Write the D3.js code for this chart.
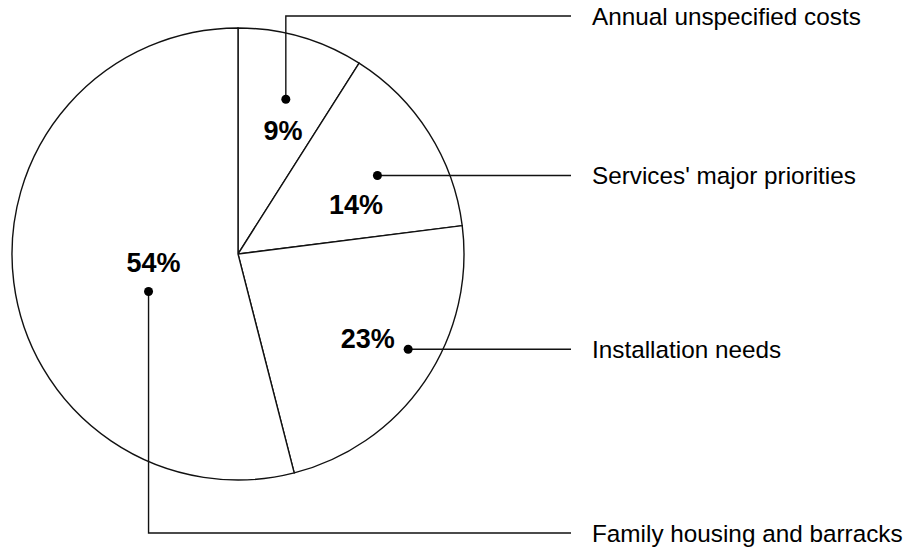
<!DOCTYPE html>
<html>
<head>
<meta charset="utf-8">
<script src="https://cdn.jsdelivr.net/npm/d3@7"></script>
<style>
  body { margin: 0; background: #fff; }
  .slice { fill: #fff; stroke: #111; stroke-width: 1.4; }
  .leader { fill: none; stroke: #111; stroke-width: 1.4; }
  .pct { font-family: "Liberation Sans", Arial, sans-serif; font-weight: bold; font-size: 27px; fill: #000; }
  .label { font-family: "Liberation Sans", Arial, sans-serif; font-size: 24.3px; fill: #000; }
</style>
</head>
<body>
<script>
// chart data
var categories = ["Annual unspecified costs", "Services' major priorities", "Installation needs", "Family housing and barracks"];
var shares = [9, 14, 23, 54];
var pctLabels = ["9%", "14%", "23%", "54%"];

var width = 911, height = 548;
var cx = 238, cy = 254, radius = 226;

var svg = d3.select("body").append("svg")
    .attr("width", width)
    .attr("height", height);

var g = svg.append("g").attr("transform", "translate(" + cx + "," + cy + ")");

var pie = d3.pie().sort(null).value(function (d) { return d; });
var arc = d3.arc().innerRadius(0).outerRadius(radius);
var arcs = pie(shares);

g.selectAll(".slice")
    .data(arcs)
    .enter().append("path")
    .attr("class", "slice")
    .attr("d", arc);

// where the dot and the percent sit inside each slice (fraction of sweep, radius)
var dotPos = [[0.53, 162], [0.56, 160], [0.44, 195], [0.42, 97]];
var pctPos = [[0.62, 131], [0.69, 128], [0.488, 155], [0.506, 85]];

function polar(d, p) {
    var a = d.startAngle + p[0] * (d.endAngle - d.startAngle);
    return [cx + p[1] * Math.sin(a), cy - p[1] * Math.cos(a)];
}

var lineEnd = 571, labelX = 592, topY = 16, bottomY = 533;

arcs.forEach(function (d, i) {
    var dot = polar(d, dotPos[i]);
    var pts, ly;
    if (i === 0) {
        ly = topY;
        pts = [dot, [dot[0], ly], [lineEnd, ly]];
    } else if (i === 3) {
        ly = bottomY;
        pts = [dot, [dot[0], ly], [lineEnd, ly]];
    } else {
        ly = dot[1];
        pts = [dot, [lineEnd, ly]];
    }
    svg.append("path")
        .attr("class", "leader")
        .attr("d", d3.line()(pts));
    svg.append("circle")
        .attr("cx", dot[0])
        .attr("cy", dot[1])
        .attr("r", 4.5)
        .attr("fill", "#000");
    svg.append("text")
        .attr("class", "label")
        .attr("x", labelX)
        .attr("y", ly)
        .attr("dy", "0.35em")
        .text(categories[i]);

    var lp = polar(d, pctPos[i]);
    svg.append("text")
        .attr("class", "pct")
        .attr("x", lp[0])
        .attr("y", lp[1])
        .attr("dy", "0.35em")
        .attr("text-anchor", "middle")
        .text(pctLabels[i]);
});
</script>
</body>
</html>
